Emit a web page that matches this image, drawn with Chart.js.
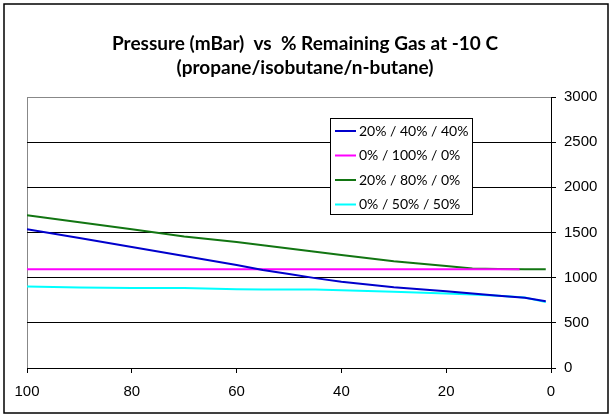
<!DOCTYPE html>
<html>
<head>
<meta charset="utf-8">
<script src="https://cdn.jsdelivr.net/npm/chart.js@4.4.1/dist/chart.umd.min.js"></script>
<style>
  html, body { margin: 0; padding: 0; background: #fff; }
  #wrap { width: 611px; height: 418px; }
</style>
</head>
<body>
<div id="wrap"><canvas id="c" width="611" height="418"></canvas></div>
<script>
// % remaining gas (x) and pressure in mBar (y)
const pctX = [100, 90, 80, 70, 60, 55, 50, 45, 40, 30, 20, 15, 10, 5, 1];
const blueY = [1537, 1438, 1339, 1240, 1140, 1085, 1040, 995, 955, 895, 850, 825, 800, 778, 740];
const greenY = [1690, 1613, 1535, 1456, 1394, 1359, 1323, 1288, 1252, 1181, 1130, 1102, 1097, 1093, 1092];
const cyanY = [903, 892, 886, 885, 871, 870, 870, 869, 862, 845, 825, 815, 800, 780, 729];
const magentaX = [100, 6];
const magentaY = [1092, 1092];

const seriesNames = ["20% / 40% / 40%", "0% / 100% / 0%", "20% / 80% / 0%", "0% / 50% / 50%"];
const seriesColors = ["#0000cc", "#ff00ff", "#127512", "#00ffff"];
const titleLines = ["Pressure (mBar)  vs  % Remaining Gas at -10 C", "(propane/isobutane/n-butane)"];
const xTicks = [100, 80, 60, 40, 20, 0];
const yTicks = [0, 500, 1000, 1500, 2000, 2500, 3000];

function pts(xs, ys) { return xs.map((x, i) => ({ x: x, y: ys[i] })); }
function ds(label, data, color) {
  return { label: label, data: data, borderColor: color, backgroundColor: color,
    borderWidth: 2, pointRadius: 0, tension: 0, fill: false };
}

// title centred on the whole frame, box legend inside the plot, outer frame
const extras = {
  id: "extras",
  afterDatasetsDraw(chart) {
    const c = chart.ctx;
    c.save();
    c.fillStyle = "#fff";
    c.fillRect(330, 118, 142, 96);
    c.strokeStyle = "#000"; c.lineWidth = 1;
    c.strokeRect(330.5, 118.5, 142, 96);
    c.font = "14px Lato";
    c.textBaseline = "middle";
    c.textAlign = "left";
    seriesNames.forEach((name, i) => {
      const y = 131 + i * 24.5;
      c.strokeStyle = seriesColors[i]; c.lineWidth = 2;
      c.beginPath(); c.moveTo(335, y); c.lineTo(356, y); c.stroke();
      c.fillStyle = "#000";
      c.fillText(name, 359, y);
    });
    c.restore();
  },
  afterDraw(chart) {
    const c = chart.ctx;
    c.save();
    c.fillStyle = "#000";
    c.font = "bold 19px Lato";
    c.textAlign = "center";
    c.textBaseline = "middle";
    titleLines.forEach((t, i) => c.fillText(t, 305, 44 + i * 24));
    c.strokeStyle = "#000"; c.lineWidth = 1.5;
    c.strokeRect(4, 4, 604, 409);
    c.restore();
  }
};

new Chart(document.getElementById("c"), {
  type: "line",
  data: {
    datasets: [
      ds(seriesNames[0], pts(pctX, blueY), seriesColors[0]),
      ds(seriesNames[1], pts(magentaX, magentaY), seriesColors[1]),
      ds(seriesNames[2], pts(pctX, greenY), seriesColors[2]),
      ds(seriesNames[3], pts(pctX, cyanY), seriesColors[3])
    ]
  },
  options: {
    responsive: false, animation: false,
    layout: { padding: { left: 27, right: 0, top: 97, bottom: 0 } },
    plugins: {
      legend: { display: false },
      tooltip: { enabled: false },
      title: { display: false }
    },
    scales: {
      x: {
        type: "linear", reverse: true, min: 0, max: 100,
        afterBuildTicks: s => { s.ticks = xTicks.map(v => ({ value: v })); },
        afterFit: s => { s.height = 50; },
        border: { color: "#000", width: 1 },
        grid: {
          drawOnChartArea: true, drawTicks: true, tickLength: 5, tickColor: "#000",
          color: ctx => (ctx.tick && ctx.tick.value === 100) ? "#888" : "rgba(0,0,0,0)"
        },
        ticks: { color: "#000", padding: 10, maxRotation: 0, font: { family: "Liberation Sans", size: 15 },
          callback: v => String(v) }
      },
      y: {
        position: "right", min: 0, max: 3000,
        afterBuildTicks: s => { s.ticks = yTicks.map(v => ({ value: v })); },
        afterFit: s => { s.width = 60; },
        border: { color: "#000", width: 1 },
        grid: {
          tickLength: 5, tickColor: "#000",
          color: ctx => (ctx.tick && ctx.tick.value === 3000) ? "#888" : "#000"
        },
        ticks: { color: "#000", padding: 8, font: { family: "Liberation Sans", size: 15 },
          callback: v => String(v) }
      }
    }
  },
  plugins: [extras]
});
</script>
</body>
</html>
